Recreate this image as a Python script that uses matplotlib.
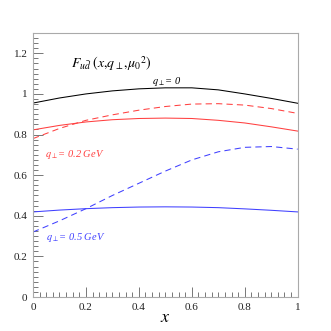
import matplotlib
matplotlib.use("Agg")
import matplotlib.pyplot as plt
from matplotlib.ticker import MultipleLocator, FuncFormatter

plt.rcParams['mathtext.fontset'] = 'stix'
plt.rcParams['font.family'] = ['Liberation Serif', 'DejaVu Serif']

x = [0.0, 0.1, 0.2, 0.3, 0.4, 0.5, 0.6, 0.7, 0.8, 0.9, 1.0]
black_solid = [0.955, 0.98, 1.0, 1.015, 1.025, 1.03, 1.03, 1.02, 1.0, 0.978, 0.954]
red_dashed = [0.78, 0.83, 0.87, 0.897, 0.92, 0.938, 0.95, 0.952, 0.945, 0.928, 0.904]
red_solid = [0.823, 0.845, 0.862, 0.873, 0.879, 0.881, 0.879, 0.87, 0.857, 0.838, 0.817]
blue_solid = [0.419, 0.428, 0.435, 0.44, 0.443, 0.444, 0.443, 0.44, 0.434, 0.427, 0.419]
blue_dashed = [0.32, 0.375, 0.435, 0.50, 0.56, 0.62, 0.675, 0.715, 0.737, 0.741, 0.728]

fig = plt.figure(figsize=(3.31, 3.31), dpi=100)
ax = fig.add_axes([0.0997, 0.1027, 0.7997, 0.7976])

red = '#ff4040'
blue = '#4040ff'
lw = 0.75
ax.plot(x, black_solid, color='black', lw=lw)
ax.plot(x, red_dashed, color=red, lw=lw, dashes=(6, 4))
ax.plot(x, red_solid, color=red, lw=lw)
ax.plot(x, blue_solid, color=blue, lw=lw)
ax.plot(x, blue_dashed, color=blue, lw=lw, dashes=(6, 4))

ax.set_xlim(0, 1)
ax.set_ylim(0, 1.3)

for s in ax.spines.values():
    s.set_color('#aaaaaa')
    s.set_linewidth(0.8)

fmt = FuncFormatter(lambda v, p: ('%g' % round(v, 2)))
ax.xaxis.set_major_locator(MultipleLocator(0.2))
ax.xaxis.set_minor_locator(MultipleLocator(0.025))
ax.yaxis.set_major_locator(MultipleLocator(0.2))
ax.yaxis.set_minor_locator(MultipleLocator(0.025))
ax.xaxis.set_major_formatter(fmt)
ax.yaxis.set_major_formatter(fmt)
ax.tick_params(which='both', direction='in', color='#777777', top=False, right=False,
               labelsize=8, width=0.7, labelcolor='#222222')
ax.tick_params(which='major', length=7, pad=4)
ax.tick_params(which='minor', length=3.5)

ax.set_xlabel(r'$x$', fontsize=13, labelpad=-2)

ax.text(0.145, 0.885, r'$F_{u\bar{d}}\;(x{,}q_{\perp}{,}\mu_0{}^2)$', transform=ax.transAxes,
        fontsize=10, va='center', ha='left')
ax.text(0.45, 0.815, r'$q_{\perp}$= 0', transform=ax.transAxes, fontsize=7.5,
        va='center', ha='left', color='black', style='italic')
ax.text(0.045, 0.54, r'$q_{\perp}$= 0.2 GeV', transform=ax.transAxes, fontsize=7.5,
        va='center', ha='left', color=red, style='italic')
ax.text(0.05, 0.225, r'$q_{\perp}$= 0.5 GeV', transform=ax.transAxes, fontsize=7.5,
        va='center', ha='left', color=blue, style='italic')

fig.savefig('out.png', dpi=100)
